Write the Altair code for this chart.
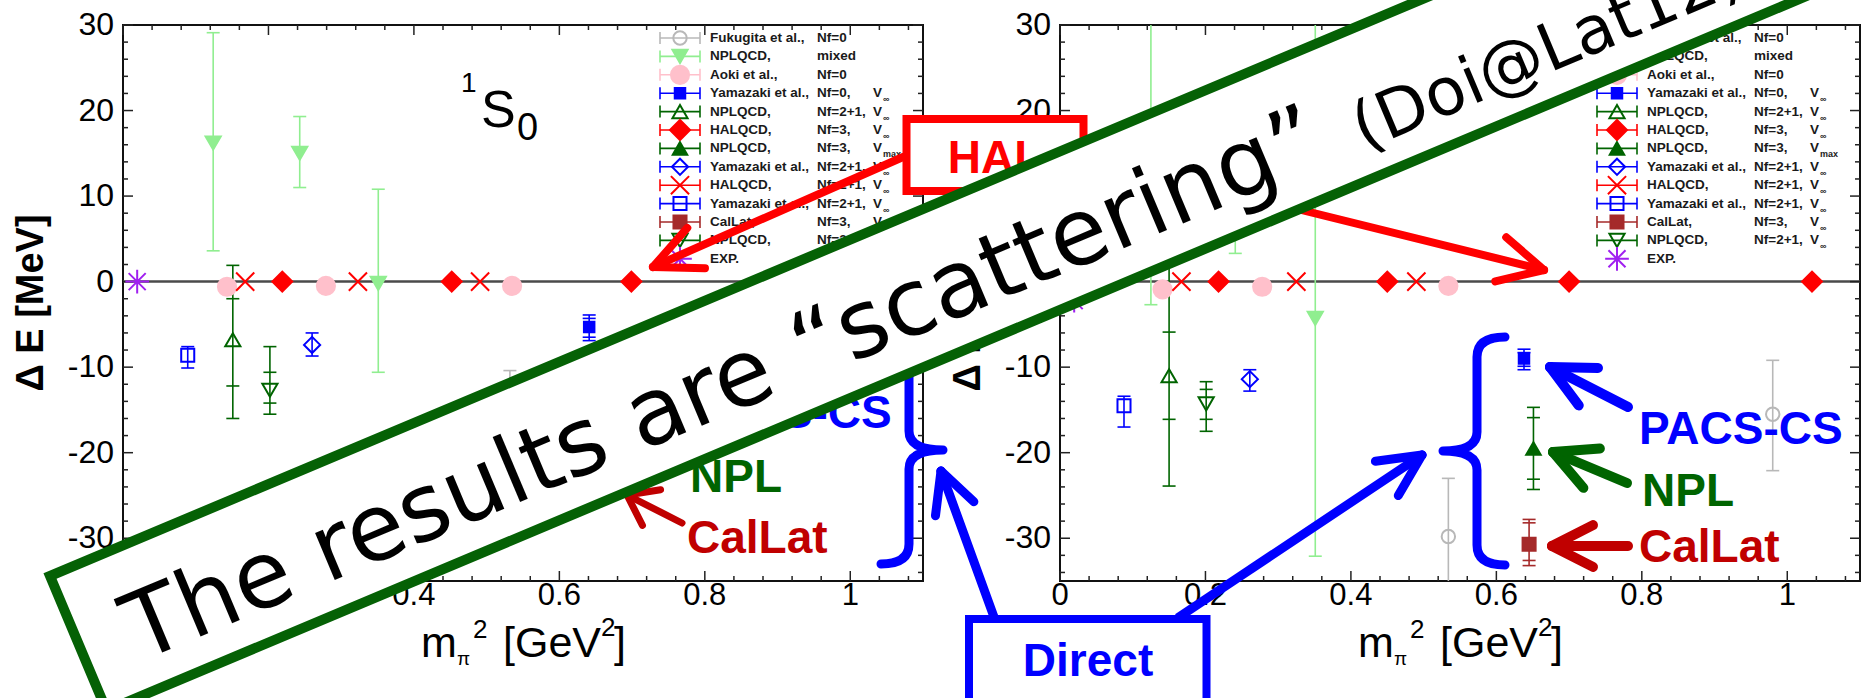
import math
import altair as alt
import pandas as pd

# ------------------------------------------------------------------ values
SERIES = [
    "Fukugita Nf=0", "NPLQCD mixed", "Aoki Nf=0", "Yamazaki Nf=0",
    "NPLQCD Nf=2+1 (a)", "HALQCD Nf=3", "NPLQCD Nf=3", "Yamazaki Nf=2+1 (a)",
    "HALQCD Nf=2+1", "Yamazaki Nf=2+1 (b)", "CalLat Nf=3", "NPLQCD Nf=2+1 (b)", "EXP",
]
LEGEND_NAME = ["Fukugita et al.,", "NPLQCD,", "Aoki et al.,", "Yamazaki et al.,", "NPLQCD,",
               "HALQCD,", "NPLQCD,", "Yamazaki et al.,", "HALQCD,", "Yamazaki et al.,",
               "CalLat,", "NPLQCD,", "EXP."]
LEGEND_NF = ["Nf=0", "mixed", "Nf=0", "Nf=0,", "Nf=2+1,", "Nf=3,", "Nf=3,", "Nf=2+1,",
             "Nf=2+1,", "Nf=2+1,", "Nf=3,", "Nf=2+1,", ""]
LEGEND_V = ["", "", "", "V", "V", "V", "V", "V", "V", "V", "V", "V", ""]
LEGEND_SUB = ["", "", "", "∞", "∞", "∞", "max", "∞", "∞", "∞", "∞", "∞", ""]

# left panel: 1S0
S0_SER = [0, 0, 1, 1, 1, 2, 2, 2, 3, 4, 5, 5, 5, 6, 7, 8, 8, 8, 9, 10, 11, 12]
S0_X = [0.532, 0.977, 0.124, 0.243, 0.351, 0.143, 0.279, 0.535, 0.641, 0.151, 0.219, 0.452,
        0.699, 0.651, 0.260, 0.168, 0.323, 0.491, 0.089, 0.645, 0.202, 0.0195]
S0_Y = [-17.2, -6.0, 16.2, 15.0, -0.2, -0.6, -0.5, -0.5, -5.3, -6.8, 0.0, 0.0,
        0.0, -15.9, -7.4, 0.0, 0.0, 0.0, -8.6, -21.8, -12.7, 0.0]
S0_LO = [-24.0, -10.5, 3.6, 11.0, -10.6, None, None, None, -6.5, -12.2, None, None,
         None, -19.0, -8.7, None, None, None, -10.1, -24.0, -14.2, None]
S0_HI = [-10.4, -1.5, 29.1, 19.3, 10.8, None, None, None, -4.3, -2.0, None, None,
         None, -14.2, -6.0, None, None, None, -7.6, -19.6, -10.6, None]
S0_LO2 = [None, None, None, None, None, None, None, None, -6.9, -16.0, None, None,
          None, -20.5, None, None, None, None, None, -24.8, -15.5, None]
S0_HI2 = [None, None, None, None, None, None, None, None, -3.9, 1.9, None, None,
          None, -13.5, None, None, None, None, None, -19.0, -7.6, None]

# right panel: 3S1
S1_SER = [0, 0, 1, 1, 1, 2, 2, 2, 3, 4, 5, 5, 5, 5, 6, 7, 8, 8, 8, 9, 10, 11, 12]
S1_X = [0.534, 0.980, 0.125, 0.241, 0.351, 0.141, 0.278, 0.534, 0.638, 0.150, 0.218, 0.450,
        0.700, 1.034, 0.651, 0.261, 0.167, 0.325, 0.490, 0.088, 0.645, 0.201, 0.0195]
S1_Y = [-29.8, -15.5, 11.0, 11.0, -4.3, -0.9, -0.6, -0.5, -9.0, -11.0, 0.0, 0.0,
        0.0, 0.0, -19.5, -11.4, 0.0, 0.0, 0.0, -14.5, -30.7, -14.3, -2.22]
S1_LO = [-40.0, -22.1, -2.7, 3.3, -32.1, None, None, None, -9.9, -16.1, None, None,
         None, None, -23.1, -12.8, None, None, None, -17.0, -32.6, -16.1, None]
S1_HI = [-23.0, -9.2, 40.0, 18.0, 40.0, None, None, None, -8.3, -5.9, None, None,
         None, None, -15.9, -10.3, None, None, None, -13.4, -28.2, -12.6, None]
S1_LO2 = [None, None, None, None, None, None, None, None, -10.3, -23.9, None, None,
          None, None, -24.3, None, None, None, None, None, -33.2, -17.5, None]
S1_HI2 = [None, None, None, None, None, None, None, None, -7.9, 2.0, None, None,
          None, None, -14.7, None, None, None, None, None, -27.8, -11.7, None]

X_MAJOR = [0.0, 0.2, 0.4, 0.6, 0.8, 1.0]
X_LABELS = ["0", "0.2", "0.4", "0.6", "0.8", "1"]
Y_MAJOR = [-30, -20, -10, 0, 10, 20, 30]
Y_LABELS = ["-30", "-20", "-10", "0", "10", "20", "30"]
X_DOMAIN = [0, 1.1]
Y_DOMAIN = [-35, 30]

# ------------------------------------------------------------------ styles and layout
GRAY, LGREEN, PINK, BLUE = "#b8b8b8", "#90ee90", "#ffc0cb", "#0000ff"
DGREEN, RED, BROWN, PURPLE = "#006400", "#ff0000", "#a52a2a", "#a020f0"
CALRED, BANNER_GREEN = "#c00000", "#056105"
X_PATH = "M-1,-1L1,1M-1,1L1,-1"
STAR_PATH = "M-1,0L1,0M0,-1L0,1M-0.72,-0.72L0.72,0.72M-0.72,0.72L0.72,-0.72"
SHAPES = ["circle", "triangle-down", "circle", "square", "triangle-up", "diamond",
          "triangle-up", "diamond", X_PATH, "square", "square", "triangle-down", STAR_PATH]
FILLS = ["transparent", LGREEN, PINK, BLUE, "transparent", RED, DGREEN, "transparent",
         "transparent", "transparent", BROWN, "transparent", "transparent"]
STROKES = [GRAY, LGREEN, PINK, BLUE, DGREEN, RED, DGREEN, BLUE, RED, BLUE, BROWN, DGREEN, PURPLE]
SIZES = [180, 230, 330, 110, 230, 400, 210, 260, 330, 170, 170, 230, 560]

SANS = "Liberation Sans"
TOP = 25
PH = 556
PW = 800
PANEL_LEFT = {"L": 123, "R": 1060}
YS = alt.Scale(domain=Y_DOMAIN, nice=False, zero=False)


def one_row():
    return pd.DataFrame({"z": [0.0]})


def style(df, col="s"):
    df["shape"] = df[col].map(lambda i: SHAPES[i])
    df["fill"] = df[col].map(lambda i: FILLS[i])
    df["stroke"] = df[col].map(lambda i: STROKES[i])
    df["size"] = df[col].map(lambda i: SIZES[i])
    return df


def txt(x, y, s, size, color="black", weight="normal", align="left",
        baseline="alphabetic", angle=0, font=SANS):
    return alt.Chart(pd.DataFrame({"t": [s]})).mark_text(
        align=align, baseline=baseline, fontSize=size, fontWeight=weight,
        color=color, angle=angle, font=font,
    ).encode(x=alt.value(x), y=alt.value(y - TOP), text="t:N")


def symbol(x, y, path, size, stroke, sw, fill="transparent", angle=0):
    return alt.Chart(one_row()).mark_point(
        shape=path, size=size, filled=True, fill=fill, stroke=stroke,
        strokeWidth=sw, opacity=1, angle=angle, strokeCap="round", strokeJoin="round",
    ).encode(x=alt.value(x), y=alt.value(y - TOP))


def box(x1, y1, x2, y2, stroke, sw):
    return alt.Chart(one_row()).mark_rect(
        fill="white", stroke=stroke, strokeWidth=sw, strokeJoin="miter",
    ).encode(x=alt.value(x1), x2=alt.value(x2), y=alt.value(y1 - TOP), y2=alt.value(y2 - TOP))


def arrow(tail, tip, head, ang, color, w):
    tx, ty = tail
    px, py = tip
    a = math.atan2(ty - py, tx - px)
    segs = [(tx, ty, px, py)]
    for sgn in (-1, 1):
        b = a + sgn * math.radians(ang)
        segs.append((px, py, px + head * math.cos(b), py + head * math.sin(b)))
    return [dict(x=a1, y=b1 - TOP, x2=a2, y2=b2 - TOP, c=color, w=w) for a1, b1, a2, b2 in segs]


def panel_layers(key, ser, xv, yv, lo, hi, lo2, hi2, sup, sub):
    pl = PANEL_LEFT[key]
    xsc = alt.Scale(domain=X_DOMAIN, range=[pl, pl + PW], nice=False, zero=False)
    L = []
    # frame and zero line
    L.append(alt.Chart(one_row()).mark_rect(fillOpacity=0, stroke="#111111", strokeWidth=2).encode(
        x=alt.value(pl), x2=alt.value(pl + PW), y=alt.value(0), y2=alt.value(PH)))
    L.append(alt.Chart(one_row()).mark_rule(color="#4a4a4a", strokeWidth=2.5).encode(
        x=alt.value(pl), x2=alt.value(pl + PW), y=alt.Y("z:Q", scale=YS, axis=None)))
    # inward ticks on all four sides
    x_minor = [round(k * 0.04, 2) for k in range(28) if k % 5]
    y_minor = [v for v in range(-34, 30, 2) if v % 10]
    xt = pd.DataFrame({"v": X_MAJOR + x_minor, "n": [10] * len(X_MAJOR) + [5] * len(x_minor)})
    xt["yb"], xt["yb2"], xt["yt"], xt["yt2"] = PH, PH - xt["n"], 0, xt["n"]
    for a, b in (("yb", "yb2"), ("yt", "yt2")):
        L.append(alt.Chart(xt).mark_rule(color="#222222", strokeWidth=1.5).encode(
            x=alt.X("v:Q", scale=xsc, axis=None),
            y=alt.Y(f"{a}:Q", scale=None, axis=None), y2=alt.Y2(f"{b}:Q")))
    yt = pd.DataFrame({"v": Y_MAJOR + y_minor, "n": [10] * len(Y_MAJOR) + [5] * len(y_minor)})
    yt["xl"], yt["xl2"], yt["xr"], yt["xr2"] = pl, pl + yt["n"], pl + PW, pl + PW - yt["n"]
    for a, b in (("xl", "xl2"), ("xr", "xr2")):
        L.append(alt.Chart(yt).mark_rule(color="#222222", strokeWidth=1.5).encode(
            y=alt.Y("v:Q", scale=YS, axis=None),
            x=alt.X(f"{a}:Q", scale=None, axis=None), x2=alt.X2(f"{b}:Q")))
    # tick labels
    L.append(alt.Chart(pd.DataFrame({"v": X_MAJOR, "t": X_LABELS})).mark_text(
        fontSize=31, font=SANS, baseline="middle", align="center", color="black").encode(
        x=alt.X("v:Q", scale=xsc, axis=None), y=alt.value(596 - TOP), text="t:N"))
    L.append(alt.Chart(pd.DataFrame({"v": Y_MAJOR, "t": Y_LABELS})).mark_text(
        fontSize=32, font=SANS, baseline="middle", align="right", color="black").encode(
        y=alt.Y("v:Q", scale=YS, axis=None), x=alt.value(pl - 9), text="t:N"))
    # axis titles
    L.append(txt(pl - 91, 303, "Δ E [MeV]", 38, weight="bold", align="center",
                 baseline="middle", angle=270))
    L.append(txt(pl + 298, 657, "m", 43))
    L.append(txt(pl + 334, 665, "π", 19))
    L.append(txt(pl + 350, 638, "2", 26))
    L.append(txt(pl + 380, 657, "[GeV", 43))
    L.append(txt(pl + 478, 636, "2", 26))
    L.append(txt(pl + 491, 657, "]", 43))
    # channel label
    L.append(txt(pl + 338, 92, sup, 28))
    L.append(txt(pl + 358, 127, "S", 52))
    L.append(txt(pl + 394, 140, sub, 38))

    # data
    df = pd.DataFrame({"s": ser, "x": xv, "y": yv, "lo": lo, "hi": hi, "lo2": lo2, "hi2": hi2})
    df = style(df)
    eb = df.dropna(subset=["lo"]).copy()
    eb["ymin"] = eb[["lo", "lo2"]].min(axis=1)
    eb["ymax"] = eb[["hi", "hi2"]].max(axis=1)
    L.append(alt.Chart(eb).mark_rule(strokeWidth=1.6, clip=True).encode(
        x=alt.X("x:Q", scale=xsc, axis=None), y=alt.Y("ymin:Q", scale=YS, axis=None),
        y2="ymax:Q", color=alt.Color("stroke:N", scale=None)))
    caps = eb.melt(id_vars=["x", "stroke"], value_vars=["lo", "hi", "lo2", "hi2"],
                   value_name="yc").dropna(subset=["yc"])
    L.append(alt.Chart(caps).mark_rule(strokeWidth=1.6, clip=True, xOffset=-6.5, x2Offset=6.5).encode(
        x=alt.X("x:Q", scale=xsc, axis=None), x2="x:Q",
        y=alt.Y("yc:Q", scale=YS, axis=None), color=alt.Color("stroke:N", scale=None)))
    L.append(alt.Chart(df).mark_point(filled=True, opacity=1, strokeWidth=2).encode(
        x=alt.X("x:Q", scale=xsc, axis=None), y=alt.Y("y:Q", scale=YS, axis=None),
        shape=alt.Shape("shape:N", scale=None), fill=alt.Fill("fill:N", scale=None),
        stroke=alt.Stroke("stroke:N", scale=None), size=alt.Size("size:Q", scale=None)))

    # legend
    leg = pd.DataFrame({"i": list(range(len(SERIES))), "name": LEGEND_NAME, "nf": LEGEND_NF,
                        "v": LEGEND_V, "sub": LEGEND_SUB})
    leg["s"] = leg["i"]
    leg = style(leg)
    leg["ly"] = 38 + 18.4 * leg["i"] - TOP
    leg["ly1"], leg["ly2"] = leg["ly"] - 6, leg["ly"] + 6
    le = leg[leg["i"] < 12]
    L.append(alt.Chart(le).mark_rule(strokeWidth=1.6).encode(
        x=alt.value(pl + 537), x2=alt.value(pl + 577),
        y=alt.Y("ly:Q", scale=None, axis=None), color=alt.Color("stroke:N", scale=None)))
    for cx in (pl + 537, pl + 577):
        L.append(alt.Chart(le).mark_rule(strokeWidth=1.6).encode(
            x=alt.value(cx), y=alt.Y("ly1:Q", scale=None, axis=None), y2="ly2:Q",
            color=alt.Color("stroke:N", scale=None)))
    L.append(alt.Chart(leg).mark_point(filled=True, opacity=1, strokeWidth=2).encode(
        x=alt.value(pl + 557), y=alt.Y("ly:Q", scale=None, axis=None),
        shape=alt.Shape("shape:N", scale=None), fill=alt.Fill("fill:N", scale=None),
        stroke=alt.Stroke("stroke:N", scale=None), size=alt.Size("size:Q", scale=None)))
    for col, dx, fs, dy in (("name", 587, 13.5, 0), ("nf", 694, 13.5, 0), ("v", 750, 13.5, 0),
                            ("sub", 760, 9, 6)):
        L.append(alt.Chart(leg).mark_text(fontSize=fs, font=SANS, align="left", fontWeight="bold",
                                          baseline="middle", color="#1a1a1a", dy=dy).encode(
            x=alt.value(pl + dx), y=alt.Y("ly:Q", scale=None, axis=None), text=f"{col}:N"))
    return L


layers = []
layers += panel_layers("L", S0_SER, S0_X, S0_Y, S0_LO, S0_HI, S0_LO2, S0_HI2, "1", "0")
layers += panel_layers("R", S1_SER, S1_X, S1_Y, S1_LO, S1_HI, S1_LO2, S1_HI2, "3", "1")

# ------------------------------------------------------------------ slide annotations
layers.append(box(906.5, 119, 1083.5, 191, RED, 8))
layers.append(txt(995, 173, "HAL", 46, RED, "bold", "center"))

BRACE = ("M0.62,-1.14Q0.34,-1.14 0.34,-0.94L0.34,-0.19Q0.34,0 0,0"
         "Q0.34,0 0.34,0.19L0.34,0.94Q0.34,1.14 0.62,1.14")
BRACE_MIRROR = ("M-0.62,-1.14Q-0.34,-1.14 -0.34,-0.94L-0.34,-0.19Q-0.34,0 0,0"
                "Q-0.34,0 -0.34,0.19L-0.34,0.94Q-0.34,1.14 -0.62,1.14")
layers.append(symbol(943, 450, BRACE_MIRROR, 40000, BLUE, 9))
layers.append(symbol(1443, 451, BRACE, 40000, BLUE, 9))

for (x, y, s, c) in ((688, 428, "PACS-CS", BLUE), (690, 492, "NPL", DGREEN),
                     (687, 553, "CalLat", CALRED), (1639, 444, "PACS-CS", BLUE),
                     (1642, 506, "NPL", DGREEN), (1639, 562, "CalLat", CALRED)):
    layers.append(txt(x, y, s, 46, c, "bold"))

segs = []
segs += arrow((903, 157), (653, 267), 52, 25, RED, 8)
segs += arrow((1087, 157), (1544, 270), 50, 27, RED, 8)
segs += arrow((688, 405), (617, 352), 34, 36, BLUE, 7)
segs += arrow((683, 456), (622, 424), 34, 36, DGREEN, 7)
segs += arrow((682, 523), (627, 495), 34, 36, CALRED, 7)
segs += arrow((1628, 407), (1550, 367), 48, 26, BLUE, 10)
segs += arrow((1627, 483), (1553, 452), 47, 27, DGREEN, 10)
segs += arrow((1628, 546), (1552, 546), 46, 27, CALRED, 10)
segs += arrow((994, 617), (941, 471), 45, 27, BLUE, 9)
segs += arrow((1179, 617), (1422, 455), 47, 26, BLUE, 9)
layers.append(alt.Chart(pd.DataFrame(segs)).mark_rule(strokeCap="round").encode(
    x=alt.X("x:Q", scale=None, axis=None), x2="x2:Q",
    y=alt.Y("y:Q", scale=None, axis=None), y2="y2:Q",
    color=alt.Color("c:N", scale=None), strokeWidth=alt.StrokeWidth("w:Q", scale=None)))

layers.append(box(969, 619, 1206.5, 730, BLUE, 8))
layers.append(txt(1088, 676, "Direct", 46, BLUE, "bold", "center"))

# rotated banner
ANG = 22.8
UX, UY = math.cos(math.radians(ANG)), -math.sin(math.radians(ANG))
NX, NY = math.sin(math.radians(ANG)), math.cos(math.radians(ANG))
P0 = (50.0, 576.0)


def on_banner(a, p):
    return P0[0] + a * UX + p * NX, P0[1] + a * UY + p * NY


BL, BH = 2400.0, 146.0
bcx, bcy = on_banner(BL / 2, BH / 2)
hh = BH / BL
BANNER_PATH = f"M-1,{-hh:.5f}L1,{-hh:.5f}L1,{hh:.5f}L-1,{hh:.5f}Z"
layers.append(alt.Chart(one_row()).mark_point(
    shape=BANNER_PATH, size=BL * BL, filled=True, fill="white", stroke=BANNER_GREEN,
    strokeWidth=10, opacity=1, angle=360 - ANG, strokeJoin="miter",
).encode(x=alt.value(bcx), y=alt.value(bcy - TOP)))
mx, my = on_banner(50, 114)
layers.append(txt(mx, my, "The results are \u201cscattering\u201d", 93, "black",
                  angle=360 - ANG, font="DejaVu Sans"))
px_, py_ = on_banner(1376, 117)
layers.append(txt(px_, py_, "(Doi@Lat12)", 66, "black", angle=360 - ANG, font="DejaVu Sans"))

chart = alt.layer(*layers).resolve_scale(x="independent").properties(
    width=1864, height=PH,
    padding={"left": 0, "top": TOP, "right": 0, "bottom": 698 - TOP - PH},
    autosize=alt.AutoSizeParams(type="none"),
    background="white",
).configure_view(stroke="transparent")

chart.save("out.html", embed_options={"renderer": "svg", "actions": False})
